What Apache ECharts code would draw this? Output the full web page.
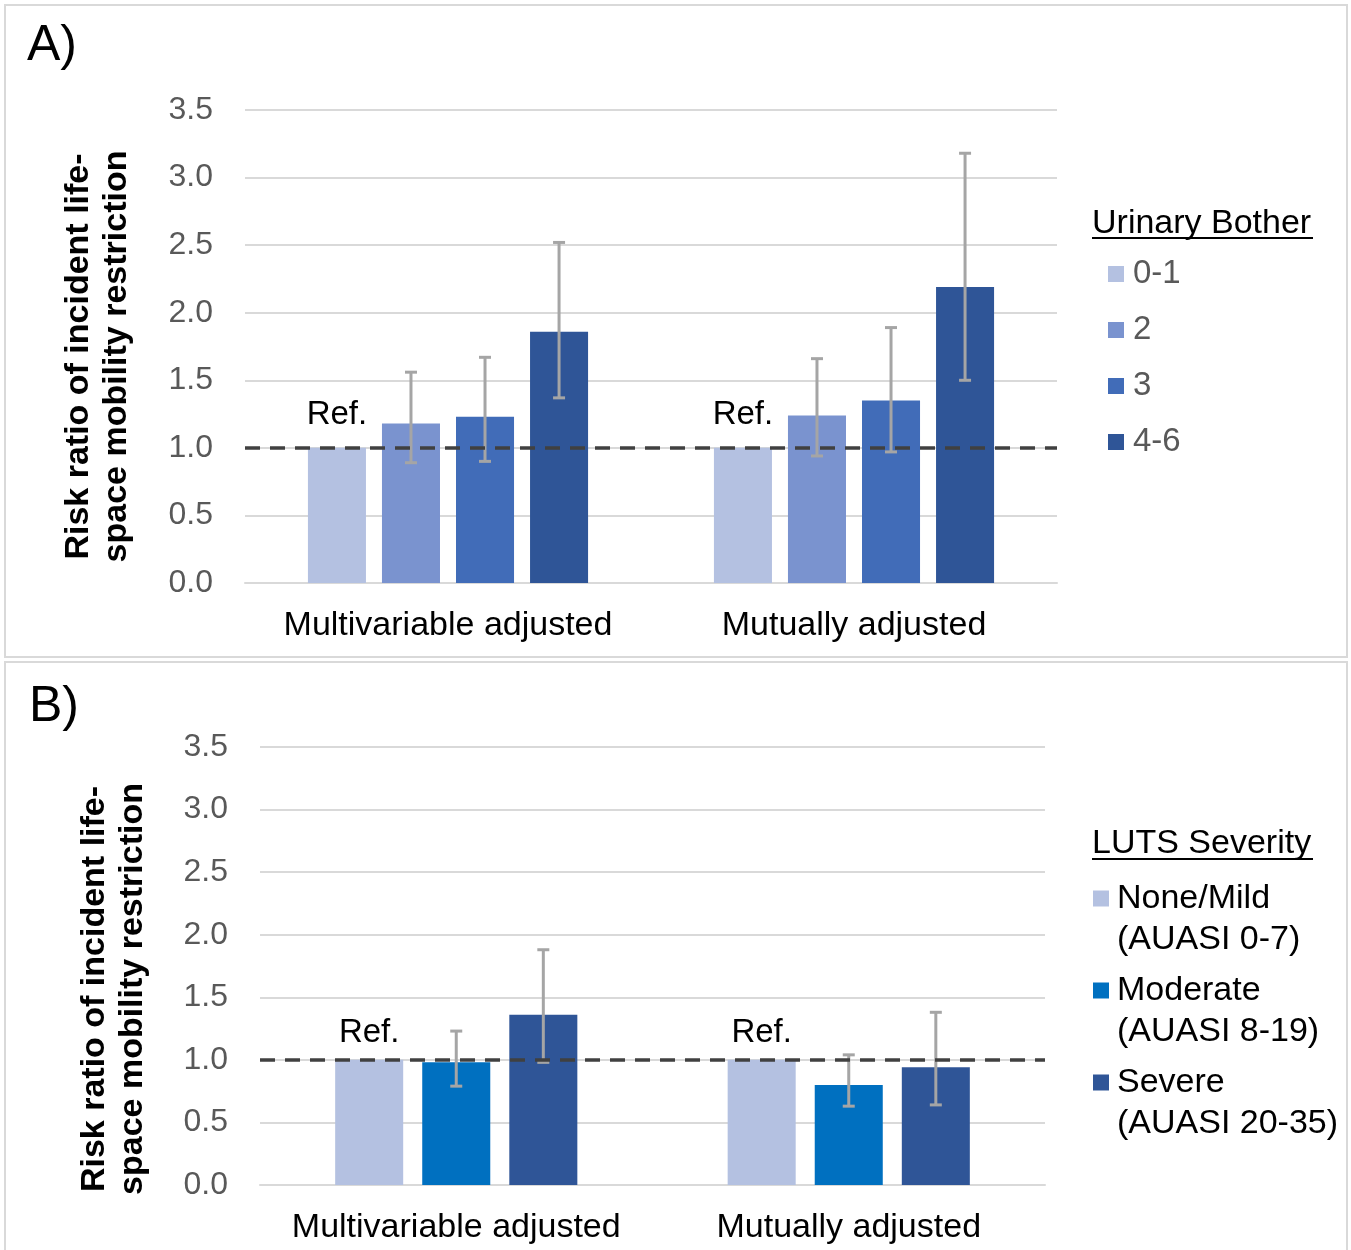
<!DOCTYPE html>
<html>
<head>
<meta charset="utf-8">
<title>Risk ratio of life-space mobility restriction</title>
<script src="https://cdn.jsdelivr.net/npm/echarts@6/dist/echarts.min.js"></script>
<style>
  html, body { margin: 0; padding: 0; background: #fff; }
  #chart { width: 1351px; height: 1250px; }
</style>
</head>
<body>
<div id="chart"></div>
<script>
// categories (same in both panels)
var categories = ['Multivariable adjusted', 'Mutually adjusted'];
var yTicks = [0, 0.5, 1.0, 1.5, 2.0, 2.5, 3.0, 3.5];

// A) Urinary bother
var botherNames = ['0-1', '2', '3', '4-6'];
var bother01 = [1.0, 1.0];
var bother2 = [1.18, 1.24];
var bother2Lo = [0.89, 0.94];
var bother2Hi = [1.56, 1.66];
var bother3 = [1.23, 1.35];
var bother3Lo = [0.90, 0.97];
var bother3Hi = [1.67, 1.89];
var bother46 = [1.86, 2.19];
var bother46Lo = [1.37, 1.50];
var bother46Hi = [2.52, 3.18];

// B) LUTS severity
var lutsNames = ['None/Mild\n(AUASI 0-7)', 'Moderate\n(AUASI 8-19)', 'Severe\n(AUASI 20-35)'];
var lutsNone = [1.0, 1.0];
var lutsMod = [0.98, 0.80];
var lutsModLo = [0.79, 0.63];
var lutsModHi = [1.23, 1.04];
var lutsSev = [1.36, 0.94];
var lutsSevLo = [0.98, 0.64];
var lutsSevHi = [1.88, 1.38];

var colorsA = ['#b4c1e1', '#7a93cf', '#416cb8', '#2f5597'];
var colorsB = ['#b4c1e1', '#0070c0', '#2f5597'];

var FONT = '"Liberation Sans", Arial, sans-serif';

// bar layout per panel (used by bars and error bars)
var layoutA = { n: 4, barGap: 0.276, catGap: 0.31, refDist: 16 };
var layoutB = { n: 3, barGap: 0.28, catGap: 0.383, refDist: 10 };

function errRender(layout, idx) {
  return function (params, api) {
    var hi = api.coord([api.value(0), api.value(2)]);
    var lo = api.coord([api.value(0), api.value(1)]);
    var band = api.size([1, 0])[0];
    var total = band * (1 - layout.catGap);
    var bw = total / (layout.n + (layout.n - 1) * layout.barGap);
    var x = hi[0] - total / 2 + idx * bw * (1 + layout.barGap) + bw / 2;
    var st = { stroke: '#a5a5a5', lineWidth: 3 };
    var cap = 6;
    return {
      type: 'group',
      children: [
        { type: 'line', shape: { x1: x, y1: hi[1], x2: x, y2: lo[1] }, style: st },
        { type: 'line', shape: { x1: x - cap, y1: hi[1], x2: x + cap, y2: hi[1] }, style: st },
        { type: 'line', shape: { x1: x - cap, y1: lo[1], x2: x + cap, y2: lo[1] }, style: st }
      ]
    };
  };
}

function errData(lo, hi) {
  var out = [];
  for (var i = 0; i < lo.length; i++) {
    out.push([i, lo[i], hi[i]]);
  }
  return out;
}

function barSeries(name, data, color, axis, layout, isRef) {
  var s = {
    name: name,
    type: 'bar',
    xAxisIndex: axis,
    yAxisIndex: axis,
    data: data,
    itemStyle: { color: color },
    barGap: (layout.barGap * 100) + '%',
    barCategoryGap: (layout.catGap * 100) + '%',
    emphasis: { disabled: true }
  };
  if (isRef) {
    s.label = {
      show: true,
      position: 'top',
      distance: layout.refDist,
      formatter: 'Ref.',
      fontFamily: FONT,
      fontSize: 33,
      color: '#000'
    };
    s.markLine = {
      silent: true,
      symbol: ['none', 'none'],
      label: { show: false },
      lineStyle: { color: '#404040', width: 3.5, type: [15, 10] },
      data: [{ yAxis: 1 }]
    };
  }
  return s;
}

function errSeries(name, lo, hi, axis, layout, idx) {
  return {
    name: name,
    type: 'custom',
    xAxisIndex: axis,
    yAxisIndex: axis,
    z: 3,
    renderItem: errRender(layout, idx),
    encode: { x: 0, y: [1, 2] },
    data: errData(lo, hi),
    silent: true
  };
}

function yAxisFor(gridIdx, gap, shift) {
  return {
    gridIndex: gridIdx,
    type: 'value',
    min: yTicks[0],
    max: yTicks[yTicks.length - 1],
    interval: 0.5,
    name: 'Risk ratio of incident life-\nspace mobility restriction',
    nameLocation: 'middle',
    nameRotate: 90,
    nameGap: gap,
    nameTextStyle: {
      fontFamily: FONT, fontSize: 34, fontWeight: 'bold', color: '#000',
      lineHeight: 38, padding: [0, shift, 0, 0]
    },
    axisLine: { show: false },
    axisTick: { show: false },
    axisLabel: {
      fontFamily: FONT, fontSize: 32, color: '#595959', margin: 32,
      padding: [4, 0, 0, 0],
      formatter: function (v) { return v.toFixed(1); }
    },
    splitLine: { lineStyle: { color: '#d9d9d9', width: 2 } }
  };
}

function xAxisFor(gridIdx) {
  return {
    gridIndex: gridIdx,
    type: 'category',
    data: categories,
    axisLine: { lineStyle: { color: '#d9d9d9', width: 2 } },
    axisTick: { show: false },
    axisLabel: { interval: 0, hideOverlap: false, fontFamily: FONT, fontSize: 34, color: '#000', margin: 26 }
  };
}

var chart = echarts.init(document.getElementById('chart'));

var option = {
  animation: false,
  backgroundColor: '#fff',
  grid: [
    { left: 245, right: 294, top: 110, bottom: 667 },
    { left: 260, right: 306, top: 747, bottom: 65 }
  ],
  xAxis: [xAxisFor(0), xAxisFor(1)],
  yAxis: [yAxisFor(0, 109, 20), yAxisFor(1, 108, 46)],
  legend: [
    {
      orient: 'vertical',
      left: 1108,
      top: 256,
      padding: 0,
      itemWidth: 16,
      itemHeight: 16,
      itemGap: 20,
      icon: 'rect',
      selectedMode: false,
      data: botherNames,
      textStyle: { fontFamily: FONT, fontSize: 33, color: '#595959', lineHeight: 36, padding: [0, 0, 0, 4] }
    },
    {
      orient: 'vertical',
      left: 1093,
      top: 837,
      padding: 0,
      itemWidth: 16,
      itemHeight: 16,
      itemGap: -31,
      icon: 'rect',
      selectedMode: false,
      data: lutsNames,
      // blank first line so the swatch sits beside the first text line
      formatter: function (name) { return ' \n' + name; },
      textStyle: { fontFamily: FONT, fontSize: 34, color: '#000', lineHeight: 41, padding: [0, 0, 0, 3] }
    }
  ],
  graphic: [
    { type: 'rect', shape: { x: 5, y: 5, width: 1342, height: 652 }, style: { fill: 'none', stroke: '#d9d9d9', lineWidth: 2 }, z: -1 },
    { type: 'rect', shape: { x: 5, y: 662, width: 1342, height: 600 }, style: { fill: 'none', stroke: '#d9d9d9', lineWidth: 2 }, z: -1 },
    { type: 'text', x: 27, y: 46, style: { text: 'A)', font: '50px ' + FONT, fill: '#000', verticalAlign: 'middle' } },
    { type: 'text', x: 29, y: 707, style: { text: 'B)', font: '50px ' + FONT, fill: '#000', verticalAlign: 'middle' } },
    { type: 'text', x: 1092, y: 224, style: { text: 'Urinary Bother', font: '34px ' + FONT, fill: '#000', verticalAlign: 'middle' } },
    { type: 'line', shape: { x1: 1092, y1: 238, x2: 1313, y2: 238 }, style: { stroke: '#000', lineWidth: 2 } },
    { type: 'text', x: 1092, y: 844, style: { text: 'LUTS Severity', font: '34px ' + FONT, fill: '#000', verticalAlign: 'middle' } },
    { type: 'line', shape: { x1: 1092, y1: 859, x2: 1313, y2: 859 }, style: { stroke: '#000', lineWidth: 2 } }
  ],
  series: [
    barSeries(botherNames[0], bother01, colorsA[0], 0, layoutA, true),
    barSeries(botherNames[1], bother2, colorsA[1], 0, layoutA, false),
    barSeries(botherNames[2], bother3, colorsA[2], 0, layoutA, false),
    barSeries(botherNames[3], bother46, colorsA[3], 0, layoutA, false),
    errSeries('errA2', bother2Lo, bother2Hi, 0, layoutA, 1),
    errSeries('errA3', bother3Lo, bother3Hi, 0, layoutA, 2),
    errSeries('errA46', bother46Lo, bother46Hi, 0, layoutA, 3),

    barSeries(lutsNames[0], lutsNone, colorsB[0], 1, layoutB, true),
    barSeries(lutsNames[1], lutsMod, colorsB[1], 1, layoutB, false),
    barSeries(lutsNames[2], lutsSev, colorsB[2], 1, layoutB, false),
    errSeries('errBmod', lutsModLo, lutsModHi, 1, layoutB, 1),
    errSeries('errBsev', lutsSevLo, lutsSevHi, 1, layoutB, 2)
  ]
};

chart.setOption(option);
</script>
</body>
</html>
